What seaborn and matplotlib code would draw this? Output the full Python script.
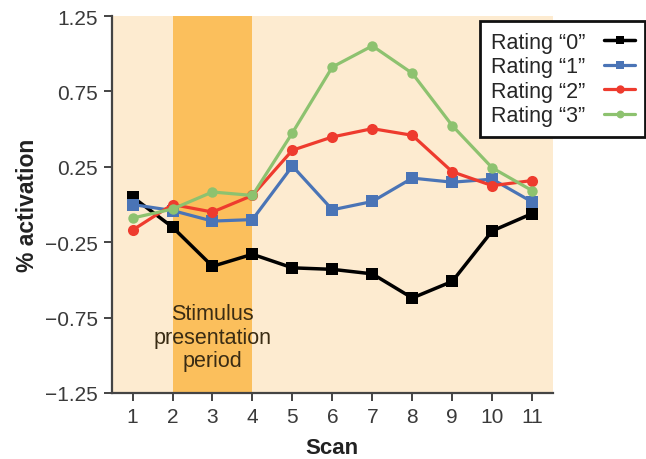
import matplotlib
matplotlib.use("Agg")
import matplotlib.pyplot as plt
import seaborn as sns
import pandas as pd

sns.set_theme(style="white")
plt.rcParams["font.family"] = ["Liberation Sans", "DejaVu Sans"]

scans = [1, 2, 3, 4, 5, 6, 7, 8, 9, 10, 11]
rating0 = [0.05, -0.15, -0.41, -0.33, -0.42, -0.43, -0.46, -0.62, -0.51, -0.175, -0.06]
rating1 = [0.0, -0.04, -0.11, -0.10, 0.255, -0.035, 0.02, 0.175, 0.148, 0.168, 0.017]
rating2 = [-0.17, 0.0, -0.05, 0.06, 0.36, 0.448, 0.503, 0.459, 0.217, 0.125, 0.159]
rating3 = [-0.09, -0.03, 0.083, 0.06, 0.475, 0.912, 1.052, 0.87, 0.523, 0.243, 0.092]
labels = ["Rating \u201c0\u201d", "Rating \u201c1\u201d", "Rating \u201c2\u201d", "Rating \u201c3\u201d"]
yticks = [1.25, 0.75, 0.25, -0.25, -0.75, -1.25]
stim_start, stim_end = 2, 4

series = [rating0, rating1, rating2, rating3]
colors = ["#000000", "#4a74b6", "#ee3b2e", "#8dc26f"]
markers = ["s", "s", "o", "o"]
msizes = [8.5, 8.5, 8, 7.5]
lws = [2.5, 2.3, 2.3, 2.3]

fig = plt.figure(figsize=(6.46, 4.6), dpi=100)
ax = fig.add_axes([0.173, 0.1435, 0.683, 0.8195])

ax.set_facecolor("#fdebd0")
ax.axvspan(stim_start, stim_end, color="#fbbf5c", zorder=0, lw=0)

for vals, lab, c, m, ms, lw in zip(series, labels, colors, markers, msizes, lws):
    df = pd.DataFrame({"Scan": scans, "act": vals})
    sns.lineplot(data=df, x="Scan", y="act", ax=ax, color=c, marker=m,
                 markersize=ms, markeredgewidth=0, linewidth=lw, label=lab,
                 zorder=3)

ax.text((stim_start + stim_end) / 2, -0.88, "Stimulus\npresentation\nperiod",
        ha="center", va="center", fontsize=15.5, color="#3a2c14",
        linespacing=1.17)

ax.set_xlim(0.48, 11.52)
ax.set_ylim(-1.25, 1.25)
ax.set_xticks(scans)
ax.set_yticks(yticks)
ax.set_yticklabels([f"{t:.2f}".replace("-", "\u2212") for t in yticks])

for side in ["top", "right"]:
    ax.spines[side].set_visible(False)
for side in ["left", "bottom"]:
    ax.spines[side].set_color("#444444")
    ax.spines[side].set_linewidth(1.6)

ax.tick_params(axis="both", which="both", direction="out", length=6, width=1.4,
               color="#444444", labelsize=15, labelcolor="#3a3a3a",
               bottom=True, left=True, pad=4)

ax.set_xlabel("Scan", fontsize=16, fontweight="bold", color="#222222", labelpad=8)
ax.set_ylabel("% activation", fontsize=16.5, fontweight="bold", color="#222222", labelpad=4)

leg = ax.legend(loc="upper right", bbox_to_anchor=(0.999, 0.952),
                bbox_transform=fig.transFigure, markerfirst=False,
                frameon=True, fancybox=False, fontsize=15.5, handlelength=1.4,
                labelspacing=0.16, borderpad=0.5, handletextpad=0.9,
                borderaxespad=0, markerscale=0.75)
leg.get_frame().set_edgecolor("#111111")
leg.get_frame().set_linewidth(2.0)
leg.get_frame().set_facecolor("white")
leg.get_frame().set_alpha(1)

fig.savefig("out.png", dpi=100)
